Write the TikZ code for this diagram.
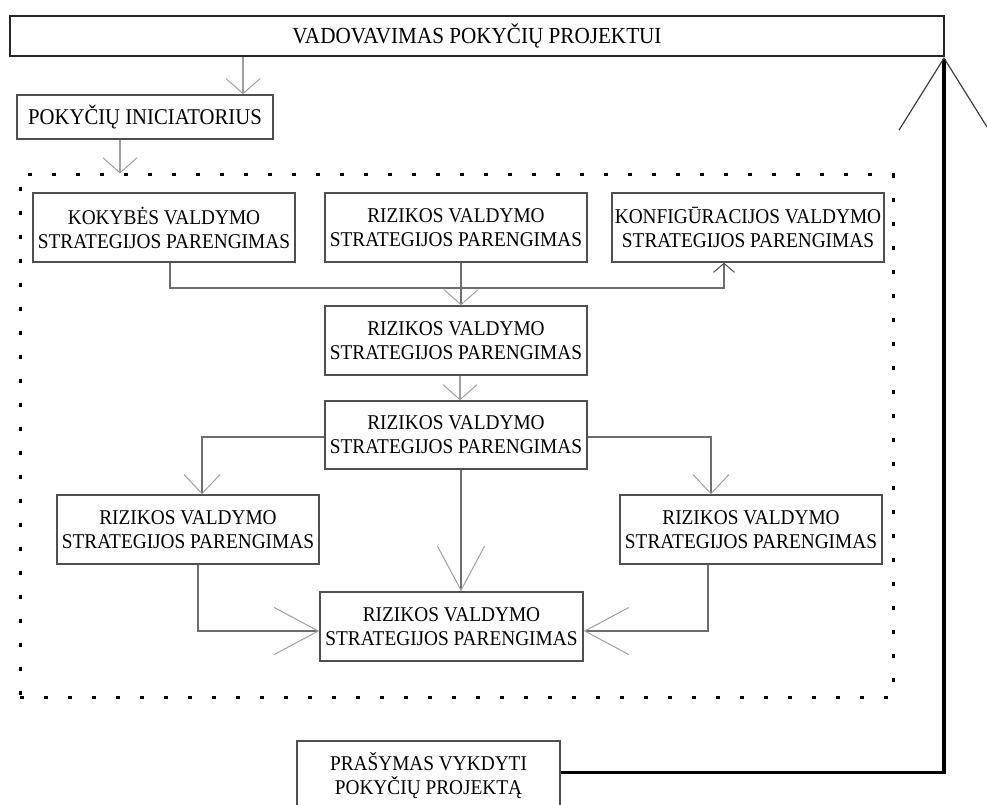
\documentclass[tikz,border=0pt]{standalone}
\usepackage{fontspec}
\setmainfont{Liberation Serif}[FakeStretch=0.92]
\usetikzlibrary{arrows.meta}
\definecolor{boxgray}{HTML}{505050}
\definecolor{linegray}{HTML}{6E6E6E}
\definecolor{tipgray}{HTML}{A0A0A0}
\begin{document}
\begin{tikzpicture}[x=1pt,y=-1pt,
  box/.style={draw=boxgray, line width=1.4pt, fill=white, align=center, inner sep=0pt,
    minimum width=262pt, minimum height=69pt,
    font=\fontsize{21}{24}\selectfont, text=black},
  conn/.style={draw=linegray, line width=1.4pt},
  tipsmall/.style={-{Straight Barb[length=15pt,width=34pt,line width=1pt,color=tipgray]}},
  tipmid/.style={-{Straight Barb[length=19pt,width=36pt,line width=1pt,color=tipgray]}},
  tiplarge/.style={-{Straight Barb[length=44pt,width=47pt,line width=1pt,color=tipgray]}},
  tipup/.style={-{Straight Barb[length=9pt,width=21pt,line width=1pt,color=boxgray]}},
  groupframe/.style={draw=black, line width=3pt, dash pattern=on 4pt off 20pt, inner sep=0pt},
  feedback/.style={draw=black, line width=3.5pt,
    -{Straight Barb[length=72pt,width=90pt,line width=1.2pt,color=black!75]}}
]
\clip (0,0) rectangle (987,805);
\fill[white] (0,0) rectangle (987,805);

% dotted frame around the strategy block
\node[groupframe, minimum width=873pt, minimum height=522pt] (grp) at (456.5,436) {};

% header and initiator
\node[box, draw=black!85, line width=2pt, minimum width=934pt, minimum height=40pt,
      font=\fontsize{23}{24}\selectfont] (top) at (477,36) {VADOVAVIMAS POKYČIŲ PROJEKTUI};
\node[box, minimum width=256pt, minimum height=44pt, font=\fontsize{22.5}{24}\selectfont]
      (ini) at (145,117) {POKYČIŲ INICIATORIUS};

% strategy boxes
\node[box] (k)  at (164,227.5) {KOKYBĖS VALDYMO\\STRATEGIJOS PARENGIMAS};
\node[box] (r1) at (456,227.5) {RIZIKOS VALDYMO\\STRATEGIJOS PARENGIMAS};
\node[box, minimum width=272pt] (konf) at (748,227.5) {KONFIGŪRACIJOS VALDYMO\\STRATEGIJOS PARENGIMAS};
\node[box] (r2) at (456,340.5) {RIZIKOS VALDYMO\\STRATEGIJOS PARENGIMAS};
\node[box, minimum height=68pt] (r3) at (456,435) {RIZIKOS VALDYMO\\STRATEGIJOS PARENGIMAS};
\node[box] (r4) at (188,529.5) {RIZIKOS VALDYMO\\STRATEGIJOS PARENGIMAS};
\node[box] (r5) at (751,529.5) {RIZIKOS VALDYMO\\STRATEGIJOS PARENGIMAS};
\node[box, minimum width=263pt] (r6) at (451.5,626.5) {RIZIKOS VALDYMO\\STRATEGIJOS PARENGIMAS};

% request box (runs past the lower edge)
\node[box, minimum width=263pt, minimum height=69pt] (req) at (428.5,775.5) {PRAŠYMAS VYKDYTI\\POKYČIŲ PROJEKTĄ};

% bus levels
\coordinate (busA) at (0,288);
\coordinate (busB) at (0,631);

% connectors
\draw[conn, draw=tipgray, tipsmall] ([xshift=-234pt]top.south) -- ([xshift=98pt]ini.north);
\draw[conn, draw=tipgray, tipsmall] ([xshift=-25pt]ini.south) -- ([xshift=-25pt]ini.south |- grp.north);
\draw[conn, tipup] ([xshift=6pt]k.south) |- ([xshift=-24pt]konf.south |- busA) -- ([xshift=-24pt]konf.south);
\draw[conn, tipsmall] ([xshift=5pt]r1.south) -- ([xshift=5pt]r2.north);
\draw[conn, draw=tipgray, tipsmall] ([xshift=4pt]r2.south) -- ([xshift=4pt]r3.north);
\draw[conn, tipmid] ([yshift=-2pt]r3.west) -| ([xshift=14pt]r4.north);
\draw[conn, tipmid] ([yshift=-2pt]r3.east) -| ([xshift=-40pt]r5.north);
\draw[conn, tiplarge] ([xshift=5pt]r3.south) -- ([xshift=9.5pt]r6.north);
\draw[conn, tiplarge] ([xshift=10pt]r4.south) |- (r6.west |- busB);
\draw[conn, tiplarge] ([xshift=-43pt]r5.south) |- (r6.east |- busB);

% feedback from the request to the header
\draw[feedback] ([yshift=3pt]req.east) -| ([xshift=-1pt]top.south east);
\end{tikzpicture}
\end{document}
